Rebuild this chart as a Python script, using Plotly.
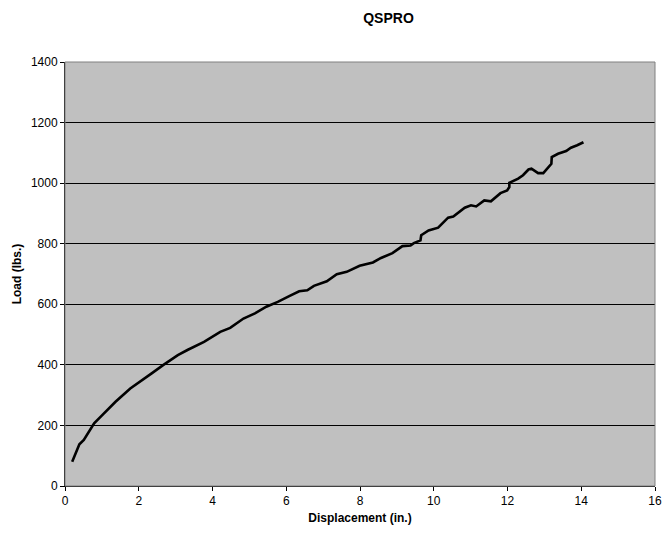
import plotly.graph_objects as go

displacement = [0.195, 0.30, 0.39, 0.51, 0.79, 1.01, 1.37, 1.77, 2.08, 2.35, 2.66, 3.06, 3.32,
                3.77, 4.21, 4.48, 4.84, 5.15, 5.46, 5.77, 6.08, 6.35, 6.57, 6.75, 7.10, 7.37,
                7.64, 7.99, 8.35, 8.57, 8.88, 9.15, 9.37, 9.46, 9.64, 9.66, 9.86, 10.12, 10.39,
                10.53, 10.84, 11.01, 11.15, 11.37, 11.55, 11.81, 11.99, 12.05, 12.05, 12.29,
                12.42, 12.57, 12.65, 12.83, 12.97, 13.10, 13.19, 13.20, 13.37, 13.59, 13.72,
                13.89, 14.06]
load = [80, 113, 138, 152, 207, 234, 278, 322, 350, 372, 399, 432, 449,
        476, 509, 522, 553, 570, 592, 608, 627, 643, 646, 661, 676, 699,
        707, 727, 738, 753, 769, 792, 794, 802, 811, 828, 844, 853, 886,
        890, 919, 927, 923, 943, 940, 967, 976, 987, 1001, 1015,
        1026, 1045, 1048, 1033, 1033, 1051, 1064, 1086, 1097, 1106, 1117,
        1125, 1135]

x_ticks = [0, 2, 4, 6, 8, 10, 12, 14, 16]
y_ticks = [0, 200, 400, 600, 800, 1000, 1200, 1400]

FONT = "Liberation Sans, Arial, sans-serif"

# page body has an 8px default margin; size the figure so it fits the 670x533 window
W, H = 662, 525

fig = go.Figure()
fig.add_trace(go.Scatter(x=displacement, y=load, mode="lines",
                         line=dict(color="black", width=2.6), showlegend=False,
                         hoverinfo="skip"))

fig.update_layout(
    width=W, height=H,
    margin=dict(l=54, r=8, t=53.5, b=47, pad=0),
    paper_bgcolor="white",
    plot_bgcolor="#C0C0C0",
    font=dict(family=FONT, size=12, color="black"),
    title=dict(text="<b>QSPRO</b>", x=(391 - 62) / 600, xref="paper", xanchor="center",
               y=1 - 10 / H, yref="container", yanchor="middle",
               font=dict(family=FONT, size=14, color="black")),
    showlegend=False,
)

fig.update_xaxes(range=[0, 16], tickvals=x_ticks, ticktext=[str(v) for v in x_ticks],
                 showgrid=False, zeroline=False, showline=True, linecolor="black", linewidth=1,
                 ticks="outside", ticklen=4, tickcolor="black",
                 tickfont=dict(family=FONT, size=12),
                 title=dict(text="<b>Displacement (in.)</b>", standoff=6,
                            font=dict(family=FONT, size=12)))
fig.update_yaxes(range=[0, 1400], tickvals=y_ticks, ticktext=[str(v) for v in y_ticks],
                 showgrid=True, gridcolor="black", gridwidth=1, zeroline=False,
                 showline=True, linecolor="black", linewidth=1,
                 ticks="outside", ticklen=4, tickcolor="black",
                 tickfont=dict(family=FONT, size=12),
                 title=dict(text="<b>Load (lbs.)</b>", standoff=6,
                            font=dict(family=FONT, size=12)))

fig.add_shape(type="rect", xref="paper", yref="paper", x0=0, y0=0, x1=1, y1=1,
              line=dict(color="#808080", width=1), fillcolor="rgba(0,0,0,0)", layer="above")

fig.write_html("out.html")
